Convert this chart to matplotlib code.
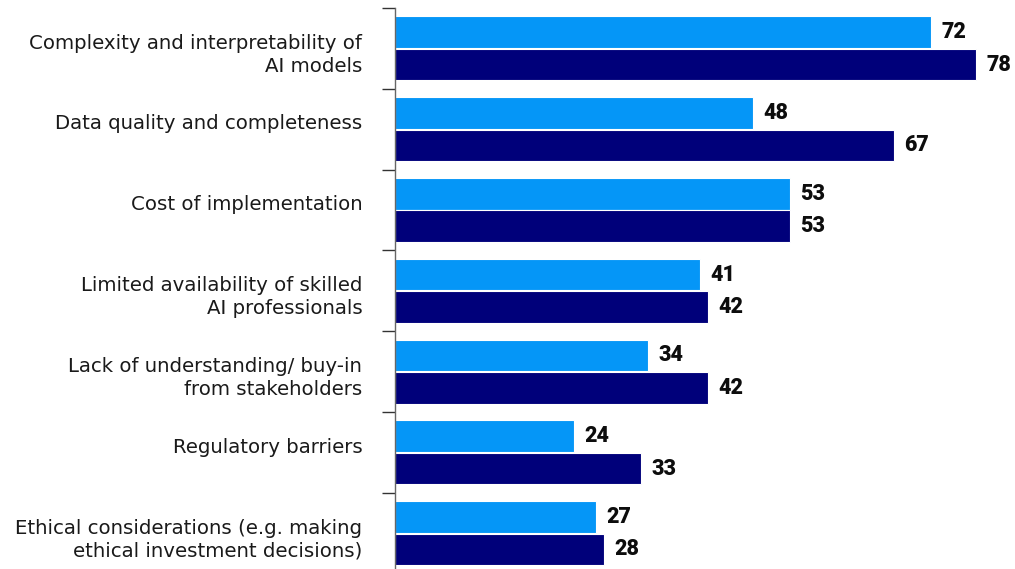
import numpy as np
import matplotlib.pyplot as plt
from matplotlib.transforms import blended_transform_factory, offset_copy

categories = [
    "Complexity and interpretability of\nAI models",
    "Data quality and completeness",
    "Cost of implementation",
    "Limited availability of skilled\nAI professionals",
    "Lack of understanding/ buy-in\nfrom stakeholders",
    "Regulatory barriers",
    "Ethical considerations (e.g. making\nethical investment decisions)",
]
series_a = [72, 48, 53, 41, 34, 24, 27]   # lighter bars
series_b = [78, 67, 53, 42, 42, 33, 28]   # darker bars

light = "#0596f7"
dark = "#00007a"

fig = plt.figure(figsize=(10.15, 5.69), dpi=100)
# axes run a little past the bottom edge, so the last group is clipped
ax = fig.add_axes([395 / 1015, 0, 620 / 1015, 561 / 569])

y = np.arange(len(categories))
h = 0.39
ax.barh(y - 0.2, series_a, height=h, color=light, edgecolor="white", linewidth=0.8)
ax.barh(y + 0.2, series_b, height=h, color=dark, edgecolor="white", linewidth=0.8)

val_font = dict(fontsize=15.5, fontweight="heavy", family="Roboto", color="#0d0d0d")
for yi, a, b in zip(y, series_a, series_b):
    ax.annotate(str(a), (a, yi - 0.2), xytext=(7.5, 0), textcoords="offset points",
                va="center", ha="left", **val_font)
    ax.annotate(str(b), (b, yi + 0.2), xytext=(7.5, 0), textcoords="offset points",
                va="center", ha="left", **val_font)

ax.set_xlim(0, 620 / 7.45)
ax.set_ylim(6.5 - 4.6 / 80.8, -0.5)

# category labels: first line sits slightly above the group centre
lab_tr = blended_transform_factory(ax.transAxes, ax.transData)
for yi, lab in zip(y, categories):
    nlines = lab.count("\n") + 1
    dy = 3.8 if nlines == 1 else -4.5
    tr = offset_copy(lab_tr, fig=fig, x=-23.5, y=dy, units="points")
    ax.text(0, yi, lab, transform=tr, ha="right", va="center", multialignment="right",
            fontsize=14.2, color="#1a1a1a", linespacing=1.26)

ax.set_yticks(np.arange(len(categories)) - 0.5)
ax.set_yticklabels([])
ax.tick_params(axis="y", length=9.5, width=1, color="#333333")
ax.set_xticks([])

for side in ["top", "right", "bottom"]:
    ax.spines[side].set_visible(False)
ax.spines["left"].set_color("#666666")
ax.spines["left"].set_linewidth(1)

fig.savefig("out.png", dpi=100)
